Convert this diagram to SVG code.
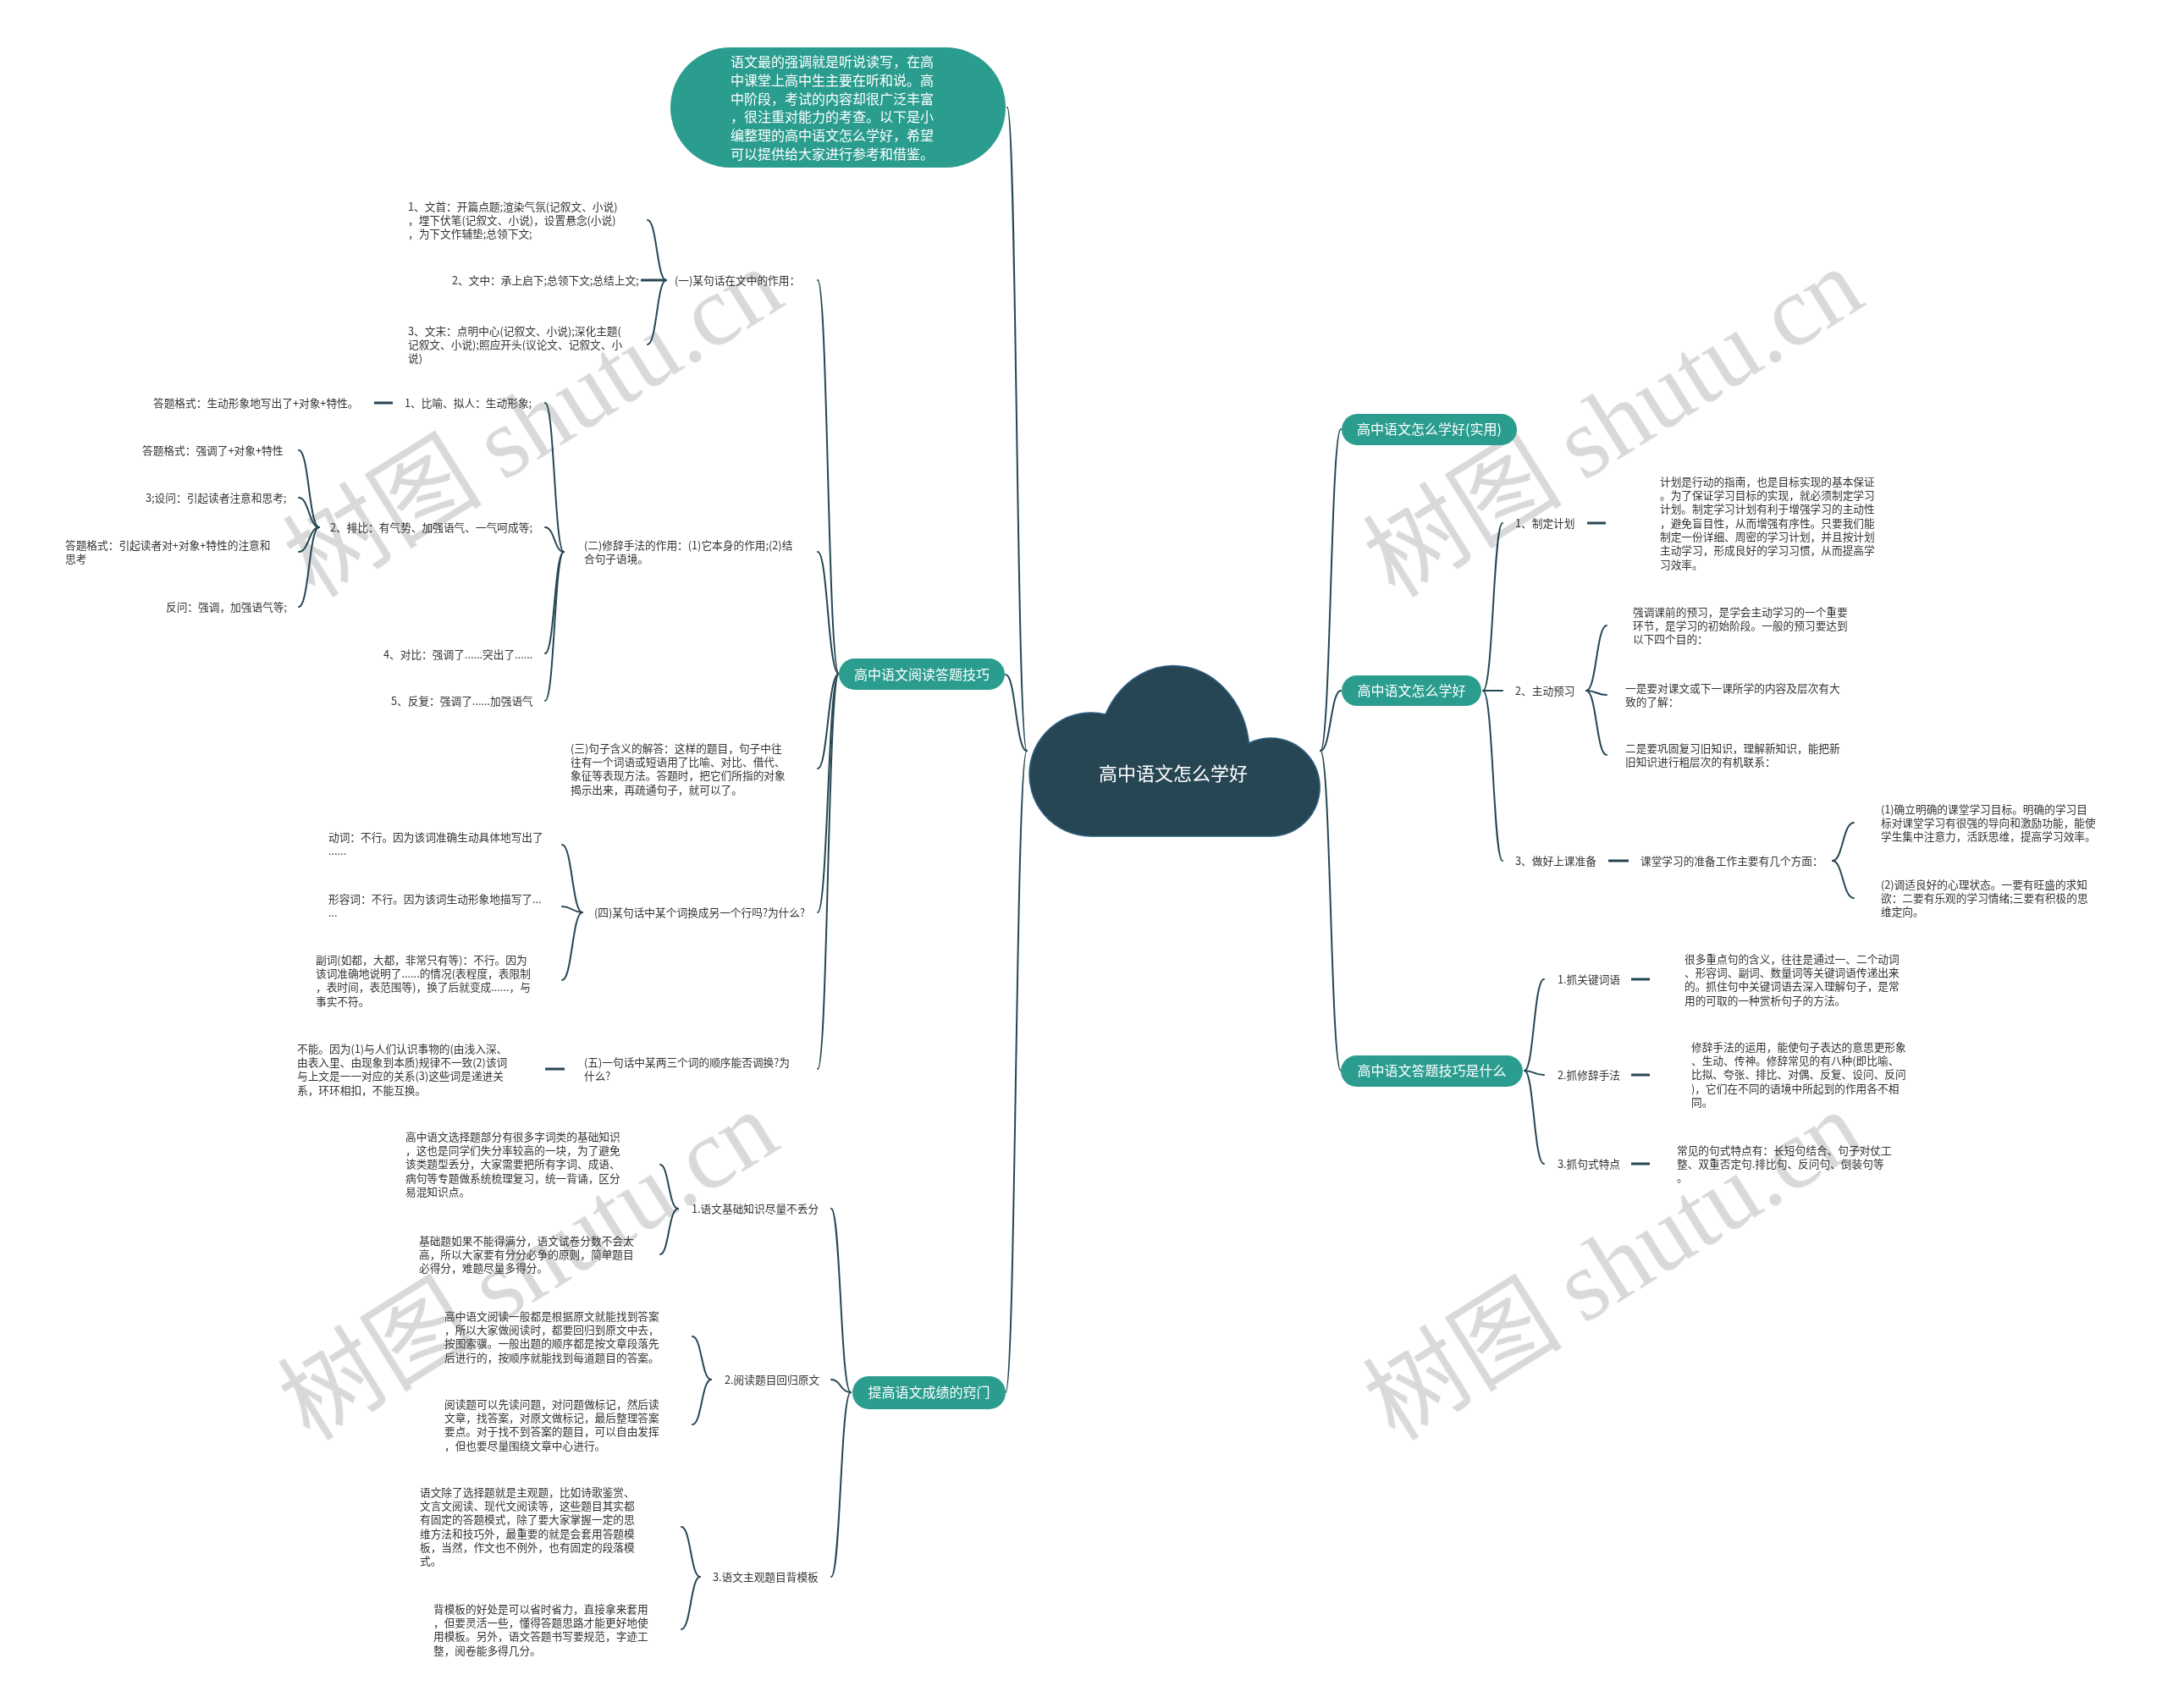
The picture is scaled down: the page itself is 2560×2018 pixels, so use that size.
<svg xmlns="http://www.w3.org/2000/svg" width="2560" height="2018" viewBox="0 0 2560 2018">
<style>
.t{font-family:"Noto Sans CJK SC","Noto Sans",sans-serif;font-size:12.7px;fill:#333}
.b{font-family:"Noto Sans CJK SC","Noto Sans",sans-serif;font-size:16px;fill:#fff;text-anchor:middle}
.bt{font-family:"Noto Sans CJK SC","Noto Sans",sans-serif;font-size:16px;fill:#fff}
.c{font-family:"Noto Sans CJK SC","Noto Sans",sans-serif;font-size:22px;fill:#fff;text-anchor:middle}
.pill{fill:#2a9d8f}
.ln{fill:none;stroke:#264653;stroke-width:2;stroke-linecap:round}
.ds{fill:none;stroke:#264653;stroke-width:3}
.wm{font-family:"Noto Sans CJK SC",sans-serif;font-size:118px;fill:#d2d2d2}
.wms{font-family:"Liberation Serif",serif}
</style>
<rect width="2560" height="2018" fill="#fff"/>
<g id="watermarks" opacity="0.85">
<text class="wm" transform="translate(372,708) rotate(-32)">树图 <tspan class="wms">shutu.cn</tspan></text>
<text class="wm" transform="translate(1648,708) rotate(-32)">树图 <tspan class="wms">shutu.cn</tspan></text>
<text class="wm" transform="translate(366,1704) rotate(-32)">树图 <tspan class="wms">shutu.cn</tspan></text>
<text class="wm" transform="translate(1648,1704) rotate(-32)">树图 <tspan class="wms">shutu.cn</tspan></text>
</g>
<g id="connectors">
<path class="ln" d="M1213,887 C1201,887 1201,127 1190,127"/>
<path class="ln" d="M1213,887 C1200,887 1200,797 1188,797"/>
<path class="ln" d="M1213,887 C1200,887 1200,1645 1188,1645"/>
<path class="ln" d="M1560,887 C1572,887 1572,507 1584,507"/>
<path class="ln" d="M1560,887 C1572,887 1572,816 1584,816"/>
<path class="ln" d="M1560,887 C1572,887 1572,1265 1584,1265"/>
<path class="ln" d="M991,796 C978,796 978,331 966,331"/>
<path class="ln" d="M991,796 C978,796 978,652 966,652"/>
<path class="ln" d="M991,796 C978,796 978,908 966,908"/>
<path class="ln" d="M991,796 C978,796 978,1078 966,1078"/>
<path class="ln" d="M991,796 C978,796 978,1263 966,1263"/>
<path class="ln" d="M787,331 C776,331 776,260 765,260"/>
<path class="ds" d="M787,331 L757,331"/>
<path class="ln" d="M787,331 C776,331 776,407 765,407"/>
<path class="ln" d="M666,652 C655,652 655,476 644,476"/>
<path class="ln" d="M666,652 C655,652 655,623 644,623"/>
<path class="ln" d="M666,652 C655,652 655,772 644,772"/>
<path class="ln" d="M666,652 C655,652 655,828 644,828"/>
<path class="ds" d="M464,476 L442,476"/>
<path class="ln" d="M377,623 C365,623 365,532 353,532"/>
<path class="ln" d="M377,623 C365,623 365,588 353,588"/>
<path class="ln" d="M377,623 C365,623 365,652 353,652"/>
<path class="ln" d="M377,623 C365,623 365,717 353,717"/>
<path class="ln" d="M688,1078 C676,1078 676,998 664,998"/>
<path class="ln" d="M688,1078 C676,1078 676,1071 664,1071"/>
<path class="ln" d="M688,1078 C676,1078 676,1158 664,1158"/>
<path class="ds" d="M667,1263 L644,1263"/>
<path class="ln" d="M1005,1645 C993,1645 993,1428 982,1428"/>
<path class="ln" d="M1005,1645 C993,1645 993,1630 982,1630"/>
<path class="ln" d="M1005,1645 C993,1645 993,1863 982,1863"/>
<path class="ln" d="M801,1428 C790,1428 790,1376 780,1376"/>
<path class="ln" d="M801,1428 C790,1428 790,1482 780,1482"/>
<path class="ln" d="M840,1630 C829,1630 829,1579 818,1579"/>
<path class="ln" d="M840,1630 C829,1630 829,1683 818,1683"/>
<path class="ln" d="M827,1863 C816,1863 816,1804 805,1804"/>
<path class="ln" d="M827,1863 C816,1863 816,1925 805,1925"/>
<path class="ln" d="M1752,816 C1764,816 1764,618 1775,618"/>
<path class="ln" d="M1752,816 C1764,816 1764,816 1775,816"/>
<path class="ln" d="M1752,816 C1764,816 1764,1017 1775,1017"/>
<path class="ds" d="M1875,618 L1897,618"/>
<path class="ln" d="M1874,816 C1886,816 1886,739 1898,739"/>
<path class="ln" d="M1874,816 C1886,816 1886,821 1898,821"/>
<path class="ln" d="M1874,816 C1886,816 1886,892 1898,892"/>
<path class="ds" d="M1900,1017 L1924,1017"/>
<path class="ln" d="M2165,1017 C2177,1017 2177,972 2190,972"/>
<path class="ln" d="M2165,1017 C2177,1017 2177,1061 2190,1061"/>
<path class="ln" d="M1801,1265 C1812,1265 1812,1157 1824,1157"/>
<path class="ln" d="M1801,1265 C1812,1265 1812,1270 1824,1270"/>
<path class="ln" d="M1801,1265 C1812,1265 1812,1375 1824,1375"/>
<path class="ds" d="M1927,1157 L1949,1157"/>
<path class="ds" d="M1927,1270 L1949,1270"/>
<path class="ds" d="M1927,1375 L1949,1375"/>
</g>
<g id="root">
<path d="M1288,988 A73,73 0 1 1 1306,844 A90,105 0 0 1 1475.5,878 A58,58 0 1 1 1500,988 Z" fill="#264653" stroke="#2d5f80" stroke-width="1.5"/>
<text class="c" x="1386" y="922">高中语文怎么学好</text>
</g>
<g id="intro">
<rect x="792" y="56" width="396" height="142" rx="71" class="pill"/>
<text class="bt" x="863" y="79">语文最的强调就是听说读写，在高<tspan x="863" dy="21.8">中课堂上高中生主要在听和说。高</tspan><tspan x="863" dy="21.8">中阶段，考试的内容却很广泛丰富</tspan><tspan x="863" dy="21.8">，很注重对能力的考查。以下是小</tspan><tspan x="863" dy="21.8">编整理的高中语文怎么学好，希望</tspan><tspan x="863" dy="21.8">可以提供给大家进行参考和借鉴。</tspan></text>
</g>
<g id="b-reading">
<rect x="991" y="778" width="196" height="37" rx="18.5" class="pill"/>
<text class="b" x="1089" y="803">高中语文阅读答题技巧</text>
</g>
<g id="n-yi">
<text class="t" x="797" y="335.8">(一)某句话在文中的作用：</text>
</g>
<g id="n-yi-1"><text class="t" x="482" y="248.8">1、文首：开篇点题;渲染气氛(记叙文、小说)<tspan x="482" dy="16.3">，埋下伏笔(记叙文、小说)，设置悬念(小说)</tspan><tspan x="482" dy="16.3">，为下文作辅垫;总领下文;</tspan></text></g>
<g id="n-yi-2"><text class="t" x="534" y="335.8">2、文中：承上启下;总领下文;总结上文;</text></g>
<g id="n-yi-3"><text class="t" x="482" y="395.8">3、文末：点明中心(记叙文、小说);深化主题(<tspan x="482" dy="16.3">记叙文、小说);照应开头(议论文、记叙文、小</tspan><tspan x="482" dy="16.3">说)</tspan></text></g>
<g id="n-er"><text class="t" x="690" y="648.8">(二)修辞手法的作用：(1)它本身的作用;(2)结<tspan x="690" dy="16.3">合句子语境。</tspan></text></g>
<g id="n-er-1"><text class="t" x="478" y="480.8">1、比喻、拟人：生动形象;</text></g>
<g id="n-er-1a"><text class="t" x="181" y="480.8">答题格式：生动形象地写出了+对象+特性。</text></g>
<g id="n-er-2"><text class="t" x="390" y="627.8">2、排比：有气势、加强语气、一气呵成等;</text></g>
<g id="n-er-2a"><text class="t" x="168" y="536.8">答题格式：强调了+对象+特性</text></g>
<g id="n-er-2b"><text class="t" x="172" y="592.8">3;设问：引起读者注意和思考;</text></g>
<g id="n-er-2c"><text class="t" x="77" y="648.8">答题格式：引起读者对+对象+特性的注意和<tspan x="77" dy="16.3">思考</tspan></text></g>
<g id="n-er-2d"><text class="t" x="196" y="721.8">反问：强调，加强语气等;</text></g>
<g id="n-er-4"><text class="t" x="453" y="777.8">4、对比：强调了......突出了......</text></g>
<g id="n-er-5"><text class="t" x="462" y="832.8">5、反复：强调了......加强语气</text></g>
<g id="n-san"><text class="t" x="674" y="888.8">(三)句子含义的解答：这样的题目，句子中往<tspan x="674" dy="16.3">往有一个词语或短语用了比喻、对比、借代、</tspan><tspan x="674" dy="16.3">象征等表现方法。答题时，把它们所指的对象</tspan><tspan x="674" dy="16.3">揭示出来，再疏通句子，就可以了。</tspan></text></g>
<g id="n-si"><text class="t" x="702" y="1082.8">(四)某句话中某个词换成另一个行吗?为什么?</text></g>
<g id="n-si-1"><text class="t" x="388" y="993.8">动词：不行。因为该词准确生动具体地写出了<tspan x="388" dy="16.3">......</tspan></text></g>
<g id="n-si-2"><text class="t" x="388" y="1066.8">形容词：不行。因为该词生动形象地描写了...<tspan x="388" dy="16.3">...</tspan></text></g>
<g id="n-si-3"><text class="t" x="373" y="1138.8">副词(如都，大都，非常只有等)：不行。因为<tspan x="373" dy="16.3">该词准确地说明了......的情况(表程度，表限制</tspan><tspan x="373" dy="16.3">，表时间，表范围等)，换了后就变成......，与</tspan><tspan x="373" dy="16.3">事实不符。</tspan></text></g>
<g id="n-wu"><text class="t" x="690" y="1259.8">(五)一句话中某两三个词的顺序能否调换?为<tspan x="690" dy="16.3">什么?</tspan></text></g>
<g id="n-wu-1"><text class="t" x="351" y="1243.8">不能。因为(1)与人们认识事物的(由浅入深、<tspan x="351" dy="16.3">由表入里、由现象到本质)规律不一致(2)该词</tspan><tspan x="351" dy="16.3">与上文是一一对应的关系(3)这些词是递进关</tspan><tspan x="351" dy="16.3">系，环环相扣，不能互换。</tspan></text></g>
<g id="b-score">
<rect x="1007" y="1626" width="181" height="39" rx="19.5" class="pill"/>
<text class="b" x="1097.5" y="1651">提高语文成绩的窍门</text>
</g>
<g id="n-s1"><text class="t" x="817" y="1432.8">1.语文基础知识尽量不丢分</text></g>
<g id="n-s1a"><text class="t" x="479" y="1347.8">高中语文选择题部分有很多字词类的基础知识<tspan x="479" dy="16.3">，这也是同学们失分率较高的一块，为了避免</tspan><tspan x="479" dy="16.3">该类题型丢分，大家需要把所有字词、成语、</tspan><tspan x="479" dy="16.3">病句等专题做系统梳理复习，统一背诵，区分</tspan><tspan x="479" dy="16.3">易混知识点。</tspan></text></g>
<g id="n-s1b"><text class="t" x="495" y="1470.8">基础题如果不能得满分，语文试卷分数不会太<tspan x="495" dy="16.3">高，所以大家要有分分必争的原则，简单题目</tspan><tspan x="495" dy="16.3">必得分，难题尽量多得分。</tspan></text></g>
<g id="n-s2"><text class="t" x="856" y="1634.8">2.阅读题目回归原文</text></g>
<g id="n-s2a"><text class="t" x="525" y="1559.8">高中语文阅读一般都是根据原文就能找到答案<tspan x="525" dy="16.3">，所以大家做阅读时，都要回归到原文中去，</tspan><tspan x="525" dy="16.3">按图索骥。一般出题的顺序都是按文章段落先</tspan><tspan x="525" dy="16.3">后进行的，按顺序就能找到每道题目的答案。</tspan></text></g>
<g id="n-s2b"><text class="t" x="525" y="1663.8">阅读题可以先读问题，对问题做标记，然后读<tspan x="525" dy="16.3">文章，找答案，对原文做标记，最后整理答案</tspan><tspan x="525" dy="16.3">要点。对于找不到答案的题目，可以自由发挥</tspan><tspan x="525" dy="16.3">，但也要尽量围绕文章中心进行。</tspan></text></g>
<g id="n-s3"><text class="t" x="842" y="1867.8">3.语文主观题目背模板</text></g>
<g id="n-s3a"><text class="t" x="496" y="1767.8">语文除了选择题就是主观题，比如诗歌鉴赏、<tspan x="496" dy="16.3">文言文阅读、现代文阅读等，这些题目其实都</tspan><tspan x="496" dy="16.3">有固定的答题模式，除了要大家掌握一定的思</tspan><tspan x="496" dy="16.3">维方法和技巧外，最重要的就是会套用答题模</tspan><tspan x="496" dy="16.3">板，当然，作文也不例外，也有固定的段落模</tspan><tspan x="496" dy="16.3">式。</tspan></text></g>
<g id="n-s3b"><text class="t" x="512" y="1905.8">背模板的好处是可以省时省力，直接拿来套用<tspan x="512" dy="16.3">，但要灵活一些，懂得答题思路才能更好地使</tspan><tspan x="512" dy="16.3">用模板。另外，语文答题书写要规范，字迹工</tspan><tspan x="512" dy="16.3">整，阅卷能多得几分。</tspan></text></g>
<g id="b-practical">
<rect x="1585" y="489" width="207" height="37" rx="18.5" class="pill"/>
<text class="b" x="1688.5" y="513">高中语文怎么学好(实用)</text>
</g>
<g id="b-how">
<rect x="1585" y="798" width="165" height="36" rx="18" class="pill"/>
<text class="b" x="1667.5" y="822">高中语文怎么学好</text>
</g>
<g id="n-h1"><text class="t" x="1790" y="622.8">1、制定计划</text></g>
<g id="n-h1a"><text class="t" x="1961" y="573.8">计划是行动的指南，也是目标实现的基本保证<tspan x="1961" dy="16.3">。为了保证学习目标的实现，就必须制定学习</tspan><tspan x="1961" dy="16.3">计划。制定学习计划有利于增强学习的主动性</tspan><tspan x="1961" dy="16.3">，避免盲目性，从而增强有序性。只要我们能</tspan><tspan x="1961" dy="16.3">制定一份详细、周密的学习计划，并且按计划</tspan><tspan x="1961" dy="16.3">主动学习，形成良好的学习习惯，从而提高学</tspan><tspan x="1961" dy="16.3">习效率。</tspan></text></g>
<g id="n-h2"><text class="t" x="1790" y="820.8">2、主动预习</text></g>
<g id="n-h2a"><text class="t" x="1929" y="727.8">强调课前的预习，是学会主动学习的一个重要<tspan x="1929" dy="16.3">环节，是学习的初始阶段。一般的预习要达到</tspan><tspan x="1929" dy="16.3">以下四个目的：</tspan></text></g>
<g id="n-h2b"><text class="t" x="1920" y="817.8">一是要对课文或下一课所学的内容及层次有大<tspan x="1920" dy="16.3">致的了解：</tspan></text></g>
<g id="n-h2c"><text class="t" x="1920" y="888.8">二是要巩固复习旧知识，理解新知识，能把新<tspan x="1920" dy="16.3">旧知识进行粗层次的有机联系：</tspan></text></g>
<g id="n-h3"><text class="t" x="1790" y="1021.8">3、做好上课准备</text></g>
<g id="n-h3a"><text class="t" x="1938" y="1021.8">课堂学习的准备工作主要有几个方面：</text></g>
<g id="n-h3a1"><text class="t" x="2222" y="960.8">(1)确立明确的课堂学习目标。明确的学习目<tspan x="2222" dy="16.3">标对课堂学习有很强的导向和激励功能，能使</tspan><tspan x="2222" dy="16.3">学生集中注意力，活跃思维，提高学习效率。</tspan></text></g>
<g id="n-h3a2"><text class="t" x="2222" y="1049.8">(2)调适良好的心理状态。一要有旺盛的求知<tspan x="2222" dy="16.3">欲：二要有乐观的学习情绪;三要有积极的思</tspan><tspan x="2222" dy="16.3">维定向。</tspan></text></g>
<g id="b-tips">
<rect x="1584" y="1247" width="215" height="37" rx="18.5" class="pill"/>
<text class="b" x="1691.5" y="1271">高中语文答题技巧是什么</text>
</g>
<g id="n-t1"><text class="t" x="1840" y="1161.8">1.抓关键词语</text></g>
<g id="n-t1a"><text class="t" x="1990" y="1137.8">很多重点句的含义，往往是通过一、二个动词<tspan x="1990" dy="16.3">、形容词、副词、数量词等关键词语传递出来</tspan><tspan x="1990" dy="16.3">的。抓住句中关键词语去深入理解句子，是常</tspan><tspan x="1990" dy="16.3">用的可取的一种赏析句子的方法。</tspan></text></g>
<g id="n-t2"><text class="t" x="1840" y="1274.8">2.抓修辞手法</text></g>
<g id="n-t2a"><text class="t" x="1998" y="1241.8">修辞手法的运用，能使句子表达的意思更形象<tspan x="1998" dy="16.3">、生动、传神。修辞常见的有八种(即比喻、</tspan><tspan x="1998" dy="16.3">比拟、夸张、排比、对偶、反复、设问、反问</tspan><tspan x="1998" dy="16.3">)，它们在不同的语境中所起到的作用各不相</tspan><tspan x="1998" dy="16.3">同。</tspan></text></g>
<g id="n-t3"><text class="t" x="1840" y="1379.8">3.抓句式特点</text></g>
<g id="n-t3a"><text class="t" x="1981" y="1363.8">常见的句式特点有：长短句结合、句子对仗工<tspan x="1981" dy="16.3">整、双重否定句.排比句、反问句、倒装句等</tspan><tspan x="1981" dy="16.3">。</tspan></text></g>
</svg>
